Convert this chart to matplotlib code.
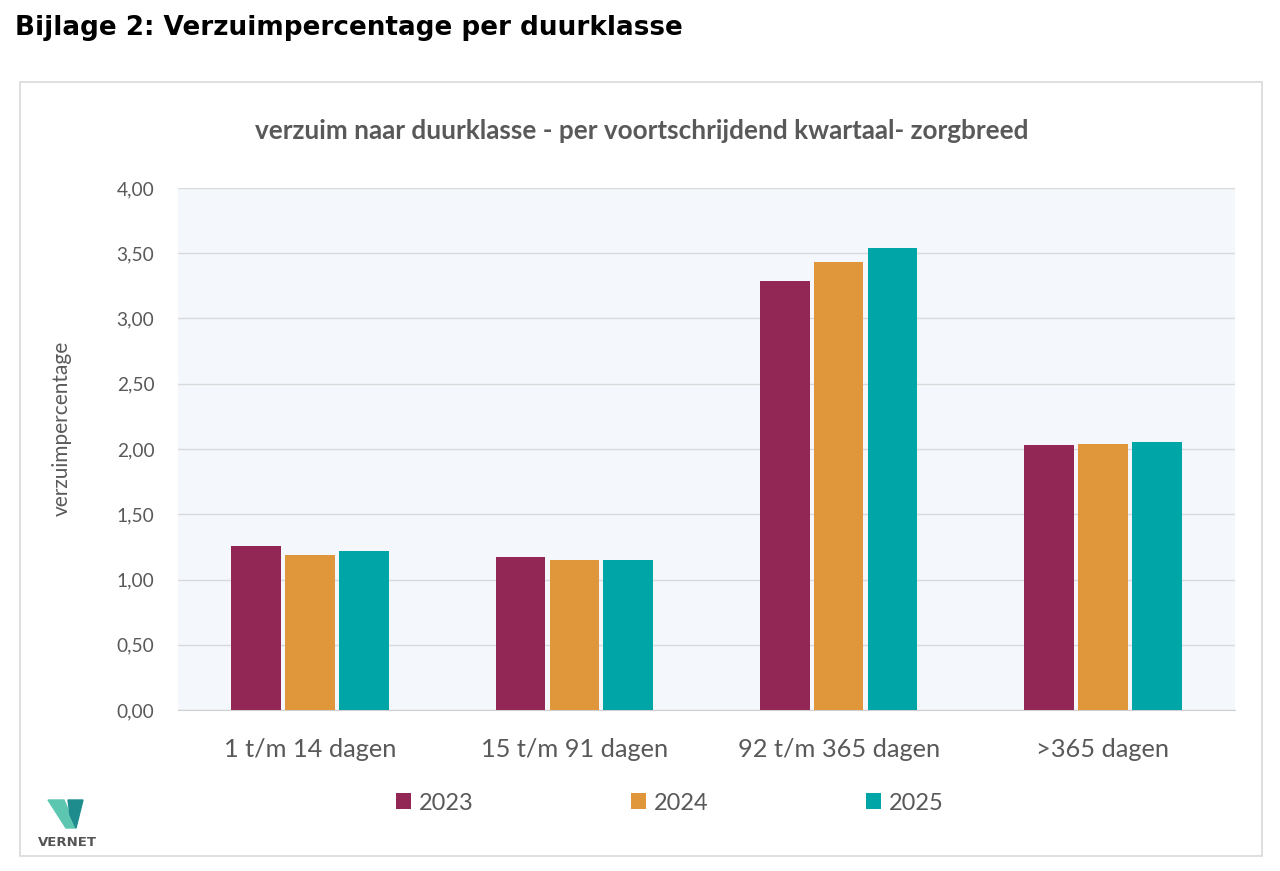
import numpy as np
import matplotlib.pyplot as plt
from matplotlib.patches import Rectangle, Polygon
from matplotlib.ticker import FuncFormatter

categories = ["1 t/m 14 dagen", "15 t/m 91 dagen", "92 t/m 365 dagen", ">365 dagen"]
years = ["2023", "2024", "2025"]
v2023 = [1.26, 1.17, 3.29, 2.03]
v2024 = [1.19, 1.15, 3.43, 2.04]
v2025 = [1.22, 1.15, 3.54, 2.05]
colors = ["#922756", "#E0963A", "#00A5A8"]

font = "Lato"


def main():
    fig = plt.figure(figsize=(12.8, 8.71), dpi=100)

    # outer frame of the chart
    fig.patches.append(Rectangle((20 / 1280, 1 - 856 / 871), 1242 / 1280, 774 / 871,
                                 transform=fig.transFigure, fill=False,
                                 edgecolor="#D9D9D9", linewidth=1.2))

    fig.text(15 / 1280, 1 - 28 / 871, "Bijlage 2: Verzuimpercentage per duurklasse",
             fontsize=18.9, fontweight="bold", family="DejaVu Sans", va="center", ha="left")

    ax = fig.add_axes([178 / 1280, 1 - 710 / 871, 1057 / 1280, 522 / 871])
    ax.set_facecolor("#F4F8FC")

    x = np.arange(len(categories))
    w = 0.188
    step = 0.204
    for i, vals in enumerate([v2023, v2024, v2025]):
        ax.bar(x + (i - 1) * step, vals, width=w, color=colors[i], label=years[i], zorder=3)

    ax.set_xlim(-0.5, len(categories) - 0.5)
    ax.set_ylim(0, 4)
    ax.set_yticks(np.arange(0, 4.01, 0.5))
    ax.yaxis.set_major_formatter(FuncFormatter(lambda v, p: f"{v:.2f}".replace(".", ",")))
    ax.grid(axis="y", color="#D9D9D9", linewidth=1, zorder=0)
    for s in ["top", "right", "left"]:
        ax.spines[s].set_visible(False)
    ax.spines["bottom"].set_color("#D0D0D0")
    ax.tick_params(axis="both", length=0)
    ax.tick_params(axis="y", labelsize=13.8, labelcolor="#595959", pad=17)
    ax.tick_params(axis="x", labelsize=18.3, labelcolor="#595959", pad=20)
    ax.set_xticks(x)
    ax.set_xticklabels(categories)
    for t in ax.get_xticklabels() + ax.get_yticklabels():
        t.set_family(font)

    fig.text(62 / 1280, 1 - 428 / 871, "verzuimpercentage", rotation=90, fontsize=15,
             color="#595959", family=font, va="center", ha="center")

    fig.text(642 / 1280, 1 - 131 / 871,
             "verzuim naar duurklasse - per voortschrijdend kwartaal- zorgbreed",
             fontsize=18.8, fontweight="bold", color="#595959", family=font,
             va="center", ha="center")

    leg = fig.legend(loc="center", bbox_to_anchor=(670 / 1280, 1 - 803 / 871), ncol=3,
                     frameon=False, prop={"family": font, "size": 16.9},
                     handlelength=0.64, handleheight=0.64, columnspacing=6.7,
                     handletextpad=0.34)
    for t in leg.get_texts():
        t.set_color("#595959")

    # VERNET logo
    fig.patches.append(Polygon([(48 / 1280, 1 - 800 / 871), (64 / 1280, 1 - 800 / 871),
                                (76 / 1280, 1 - 828 / 871), (66 / 1280, 1 - 828 / 871)],
                               closed=True, transform=fig.transFigure, color="#5CC6B0"))
    fig.patches.append(Polygon([(68 / 1280, 1 - 800 / 871), (83 / 1280, 1 - 800 / 871),
                                (76 / 1280, 1 - 828 / 871), (70 / 1280, 1 - 815 / 871)],
                               closed=True, transform=fig.transFigure, color="#1E8C8C"))
    fig.text(67 / 1280, 1 - 842 / 871, "VERNET", fontsize=9.5, fontweight="bold",
             color="#555555", family="DejaVu Sans", ha="center", va="center")

    plt.savefig("out.png", dpi=100)


main()
